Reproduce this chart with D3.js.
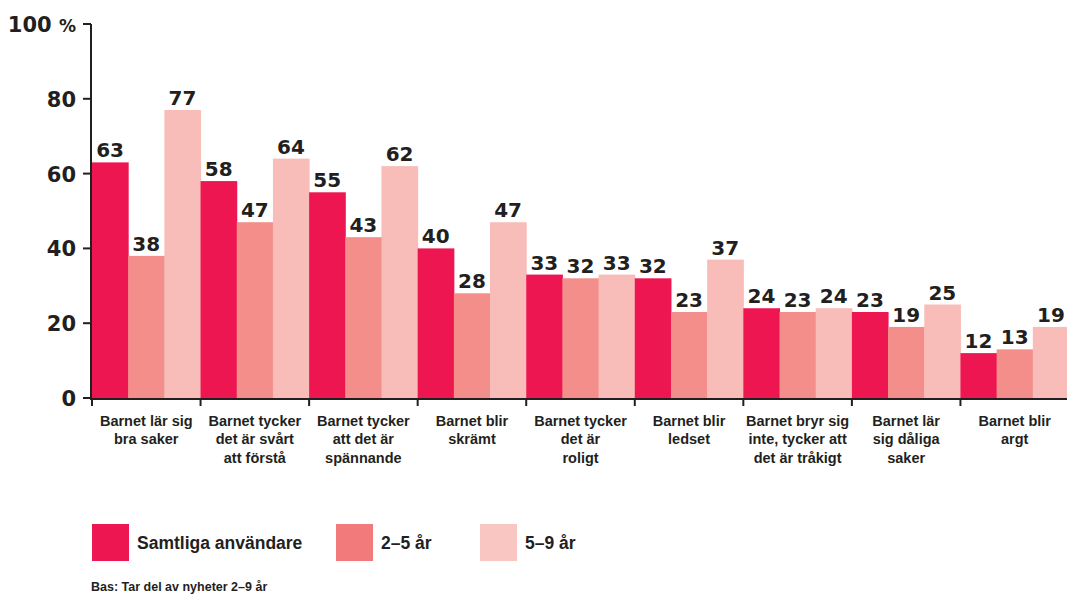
<!DOCTYPE html>
<html><head><meta charset="utf-8">
<script src="https://cdn.jsdelivr.net/npm/d3@7"></script>
<style>
body{margin:0;background:#fff;}
svg{display:block;}
.t{font-family:"Liberation Sans",Arial,sans-serif;font-weight:bold;fill:#231f20;}
.d{font-family:"DejaVu Sans",sans-serif;font-weight:bold;fill:#231f20;}
.n{font-family:"Liberation Sans Narrow","Liberation Sans",Arial,sans-serif;font-weight:bold;fill:#231f20;}
</style></head><body>
<script>
const categories = [
  ["Barnet lär sig","bra saker"],
  ["Barnet tycker","det är svårt","att förstå"],
  ["Barnet tycker","att det är","spännande"],
  ["Barnet blir","skrämt"],
  ["Barnet tycker","det är","roligt"],
  ["Barnet blir","ledset"],
  ["Barnet bryr sig","inte, tycker att","det är tråkigt"],
  ["Barnet lär","sig dåliga","saker"],
  ["Barnet blir","argt"]
];
const seriesNames = ["Samtliga användare","2–5 år","5–9 år"];
const samtliga = [63,58,55,40,33,32,24,23,12];
const age2to5  = [38,47,43,28,32,23,23,19,13];
const age5to9  = [77,64,62,47,33,37,24,25,19];
const yTicks = [0,20,40,60,80,100];
const colors = ["#ED1650","#F38E8B","#F8BDB8"];
const legendColors = ["#ED1650","#F27A7A","#F9C6C2"];
const footnote = "Bas: Tar del av nyheter 2–9 år";

const W=1067,H=595;
const svg=d3.select("body").append("svg").attr("width",W).attr("height",H);
const x0=d3.scaleBand().domain(d3.range(categories.length)).range([92,1069]).padding(0);
const x1=d3.scaleBand().domain([0,1,2]).range([0,x0.bandwidth()]).padding(0);
const y=d3.scaleLinear().domain([0,100]).range([398,24]);
const series=[samtliga,age2to5,age5to9];

const g=svg.append("g");
categories.forEach((c,i)=>{
  series.forEach((s,j)=>{
    const v=s[i];
    g.append("rect").attr("x",x0(i)+x1(j)).attr("width",x1.bandwidth()+0.5)
     .attr("y",y(v)).attr("height",y(0)-y(v)).attr("fill",colors[j]);
    g.append("text").attr("class","d").attr("x",x0(i)+x1(j)+x1.bandwidth()/2)
     .attr("y",y(v)-5).attr("text-anchor","middle").attr("font-size",20).text(v);
  });
});

// y axis
svg.append("line").attr("x1",91).attr("x2",91).attr("y1",y(100)).attr("y2",y(0)+1)
  .attr("stroke","#231f20").attr("stroke-width",2);
yTicks.forEach(t=>{
  svg.append("line").attr("x1",83).attr("x2",91).attr("y1",y(t)).attr("y2",y(t))
    .attr("stroke","#231f20").attr("stroke-width",2);
  const tx=svg.append("text").attr("class","d").attr("x",76).attr("y",y(t)+8)
    .attr("text-anchor","end").attr("font-size",21);
  if(t===100){
    tx.append("tspan").text("100 ");
    tx.append("tspan").attr("font-size",17).text("%");
  } else tx.text(t);
});
// x axis
svg.append("line").attr("x1",90).attr("x2",W).attr("y1",y(0)+1).attr("y2",y(0)+1)
  .attr("stroke","#231f20").attr("stroke-width",2);
categories.forEach((c,i)=>{
  const xx=x0(i);
  svg.append("line").attr("x1",xx).attr("x2",xx).attr("y1",y(0)).attr("y2",y(0)+8)
    .attr("stroke","#231f20").attr("stroke-width",2);
  const tx=svg.append("text").attr("class","n").attr("text-anchor","middle").attr("font-size",14.5);
  c.forEach((line,k)=>{
    tx.append("tspan").attr("x",x0(i)+x0.bandwidth()/2).attr("y",426+k*18.3).text(line);
  });
});

// legend
const lx=[92,336,480];
seriesNames.forEach((n,j)=>{
  svg.append("rect").attr("x",lx[j]).attr("y",524).attr("width",37).attr("height",37).attr("fill",legendColors[j]);
  svg.append("text").attr("class","t").attr("x",lx[j]+45).attr("y",549).attr("font-size",17.5).text(n);
});
svg.append("text").attr("class","t").attr("x",91).attr("y",591).attr("font-size",12.5).text(footnote);
</script>
</body></html>
